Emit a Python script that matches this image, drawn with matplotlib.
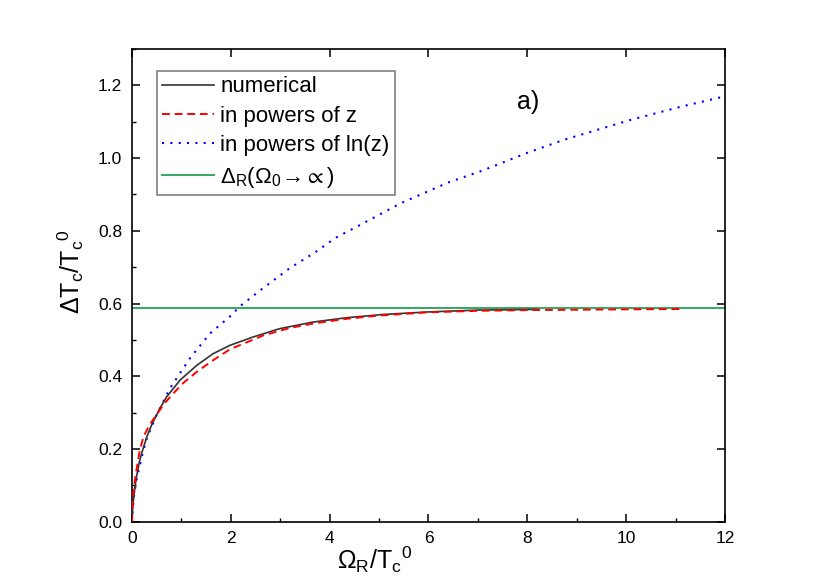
import matplotlib
matplotlib.use("Agg")
import matplotlib.pyplot as plt
from matplotlib.ticker import MultipleLocator, FormatStrFormatter

plt.rcParams['font.family'] = ['Liberation Sans', 'DejaVu Sans']
plt.rcParams['mathtext.fontset'] = 'custom'
plt.rcParams['mathtext.rm'] = 'Liberation Sans'
plt.rcParams['mathtext.it'] = 'Liberation Sans:italic'
plt.rcParams['mathtext.fallback'] = 'stixsans'

# numerical solution
x_num = [0, 0.01, 0.03, 0.06, 0.10, 0.15, 0.20, 0.30, 0.40, 0.55, 0.70, 0.97, 1.31,
         1.64, 1.98, 2.45, 2.99, 3.66, 4.34, 5.08, 6.0, 7.0, 8.2]
y_num = [0, 0.03, 0.06, 0.095, 0.13, 0.165, 0.19, 0.233, 0.267, 0.308, 0.343, 0.389, 0.430,
         0.462, 0.485, 0.508, 0.531, 0.549, 0.561, 0.570, 0.577, 0.582, 0.584]

# expansion in powers of z
x_z = [0, 0.01, 0.03, 0.06, 0.10, 0.15, 0.23, 0.35, 0.5, 0.65, 0.83, 1.05, 1.31, 1.64, 1.98,
       2.65, 3.2, 3.66, 4.34, 5.0, 6.0, 7.0, 8.0, 9.0, 10.0, 11.17]
y_z = [0, 0.04, 0.08, 0.115, 0.15, 0.19, 0.233, 0.265, 0.295, 0.324, 0.352, 0.383, 0.412, 0.444, 0.474,
       0.512, 0.533, 0.545, 0.558, 0.567, 0.576, 0.580, 0.582, 0.583, 0.584, 0.585]

# expansion in powers of ln(z)
x_ln = [0, 0.02, 0.05, 0.1, 0.2, 0.3, 0.5, 0.77, 1.17, 1.58, 1.98, 2.18, 2.65, 3.19,
        3.73, 4.11, 4.6, 5.44, 6.42, 7.10, 7.97, 8.71, 10.06, 11.07, 12]
y_ln = [0, 0.04, 0.08, 0.12, 0.18, 0.23, 0.294, 0.367, 0.449, 0.518, 0.564, 0.592, 0.642, 0.697,
        0.743, 0.780, 0.815, 0.876, 0.934, 0.966, 1.013, 1.049, 1.104, 1.140, 1.170]

# limit Omega_0 -> infinity
x_lim = [0, 12]
y_lim = [0.587, 0.587]

fig = plt.figure(figsize=(8.3, 5.87), dpi=100)
ax = fig.add_axes([0.159, 0.1112, 0.7145, 0.8053])

ax.plot(x_num, y_num, color='#333333', lw=1.2, label='numerical', zorder=4)
ax.plot(x_z, y_z, color='#ff0000', lw=1.4, ls=(0, (4, 2.5)), label='in powers of z', zorder=5)
ax.plot(x_ln, y_ln, color='#0000ff', lw=1.5, ls=(0, (1, 3)), label='in powers of ln(z)', zorder=3)
ax.plot(x_lim, y_lim, color='#33a860', lw=1.4,
        label=r'$\mathregular{\Delta_R(\Omega_0}\!\rightarrow\!\propto\mathregular{)}$', zorder=2)

ax.set_xlim(0, 12)
ax.set_ylim(0, 1.3)
ax.xaxis.set_major_locator(MultipleLocator(2))
ax.xaxis.set_minor_locator(MultipleLocator(1))
ax.yaxis.set_major_locator(MultipleLocator(0.2))
ax.yaxis.set_minor_locator(MultipleLocator(0.1))
ax.yaxis.set_major_formatter(FormatStrFormatter('%.1f'))

ax.tick_params(which='major', direction='in', length=6, width=1.1, labelsize=12.5,
               top=True, right=True, pad=7)
ax.tick_params(which='minor', direction='in', length=3, width=1.0)
for s in ax.spines.values():
    s.set_linewidth(1.2)

ax.set_xlabel(r'$\mathregular{\Omega_R/T_c{}^0}$', fontsize=18)
ax.xaxis.set_label_coords(0.41, -0.047)
ax.set_ylabel(r'$\mathregular{\Delta T_c/T_c{}^0}$', fontsize=18)
ax.yaxis.set_label_coords(-0.078, 0.53)

ax.text(7.8, 1.135, 'a)', fontsize=18)

leg = ax.legend(loc='upper left', bbox_to_anchor=(0.042, 0.954), borderaxespad=0,
                fontsize=16, fancybox=False, framealpha=1, edgecolor='#808080',
                handlelength=2.3, handletextpad=0.3, labelspacing=0.38, borderpad=0.25)
leg.get_frame().set_linewidth(1.2)

fig.savefig('out.png', dpi=100)
